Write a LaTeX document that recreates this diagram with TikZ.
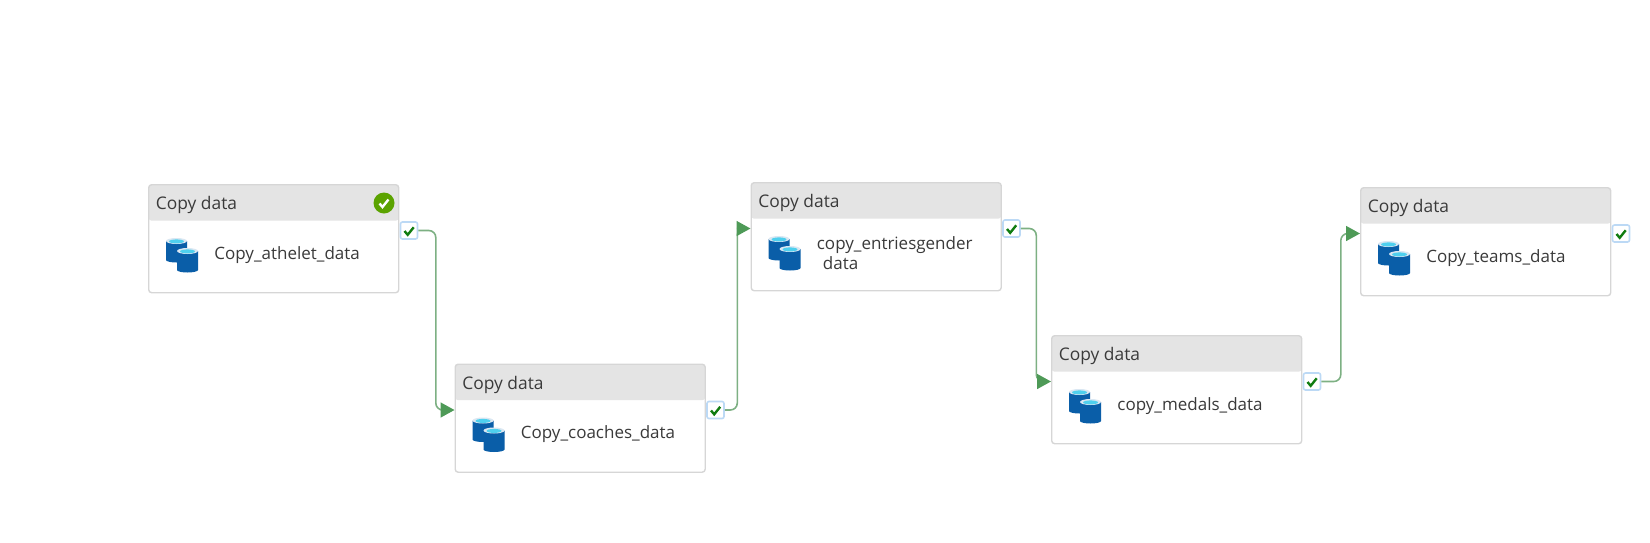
\documentclass[tikz,border=0pt]{standalone}
\usepackage{fontspec}
\setmainfont{Open Sans}
\usetikzlibrary{arrows.meta}
\definecolor{headgray}{HTML}{E4E4E4}
\definecolor{boxline}{HTML}{D6D6D6}
\definecolor{inktext}{HTML}{3A3A3A}
\definecolor{linkgreen}{HTML}{7DB083}
\definecolor{tipgreen}{HTML}{4E9A57}
\definecolor{tickgreen}{HTML}{107C10}
\definecolor{okgreen}{HTML}{5BA300}
\definecolor{tagblue}{HTML}{BCD9F5}
\definecolor{drumblue}{HTML}{0A5EA8}
\definecolor{drumtop}{HTML}{4FD0EE}
\tikzset{
activitybox/.style={anchor=north west,rounded corners=1.5pt,draw=boxline,line width=.7pt,fill=white,
  minimum width=125pt,minimum height=54pt,inner sep=0pt,
  path picture={\fill[headgray] (path picture bounding box.north west) rectangle ++(125pt,-18pt);}},
headlabel/.style={anchor=west,inner sep=0pt,text=inktext,font=\fontsize{8.7}{10}\selectfont},
namelabel/.style={anchor=west,inner sep=0pt,text=inktext,align=left,font=\fontsize{8.5}{10}\selectfont},
tagbox/.style={rounded corners=1pt,draw=tagblue,line width=.8pt,fill=white,minimum size=8.5pt,inner sep=0pt},
flowlink/.style={draw=linkgreen,line width=.8pt,rounded corners=3.5pt,-{Triangle[length=7pt,width=7.5pt,color=tipgreen]}},
tick/.style={line width=1.2pt,draw=tickgreen},
okdot/.style={circle,fill=okgreen,minimum size=10.5pt,inner sep=0pt},
}
\newcommand{\drum}[2]{% one database cylinder, top left corner given
\fill[drumblue] (#1,#2+3) -- ++(0,19) arc[start angle=180,end angle=0,x radius=10.5,y radius=2.5] -- ++(0,-19) -- cycle;
\fill[white!85!drumblue] (#1+10.5,#2+3) ellipse[x radius=10.5,y radius=3];
\fill[drumtop] (#1+10.5,#2+3.4) ellipse[x radius=7.5,y radius=2];
}
\begin{document}
\begin{tikzpicture}[x=.5pt,y=-.5pt]
\useasboundingbox (0,0) rectangle (1650,542);

\foreach \nm/\xx/\yy/\lbl in {1/148/184/{Copy\_athelet\_data},
  2/454.5/363.5/{Copy\_coaches\_data},
  3/750.5/182/{copy\_entriesgender\\\hspace*{3pt}data},
  4/1051/335/{copy\_medals\_data},
  5/1360/187/{Copy\_teams\_data}}{
\node[activitybox] (box\nm) at (\xx,\yy) {};
\node[headlabel] (head\nm) at (\xx+7.5,\yy+21) {Copy data};
\node[namelabel] (name\nm) at (\xx+66,\yy+71) {\lbl};
\drum{\xx+18}{\yy+54}
\drum{\xx+29}{\yy+64}
\node[tagbox] (tag\nm) at (\xx+261,\yy+46.5) {};
\draw[tick] (\xx+256.5,\yy+47) -- ++(3.2,3.8) -- ++(6,-7.5);
\coordinate (in\nm) at (\xx,\yy+46.5);
}

% status of the first activity
\node[okdot] (ok1) at (384,203) {};
\draw[white,line width=1.2pt] (379.5,203.5) -- ++(3,3.5) -- ++(6,-7.5);

\foreach \a/\b/\bend in {1/2/17.5,2/3/12.5,3/4/15.5,4/5/19.5}
\draw[flowlink] (tag\a.east) -- ++(\bend,0) |- (in\b);
\end{tikzpicture}
\end{document}
